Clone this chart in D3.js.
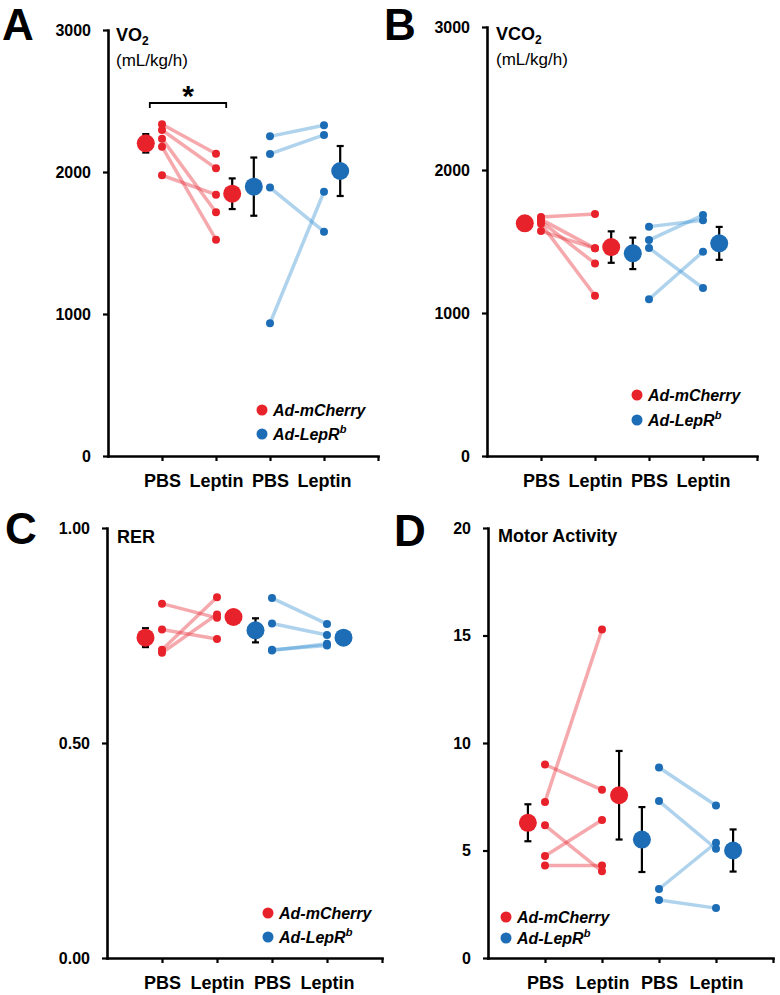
<!DOCTYPE html>
<html>
<head>
<meta charset="utf-8">
<script src="https://cdn.jsdelivr.net/npm/d3@7"></script>
<style>
  html, body { margin: 0; padding: 0; background: #fff; }
  svg { display: block; font-family: "Liberation Sans", Arial, sans-serif; }
</style>
</head>
<body>
<svg id="chart" width="780" height="995"></svg>
<script>
// ---------- DATA ----------
const xLabels = ["PBS", "Leptin", "PBS", "Leptin"];
const groupNames = ["Ad-mCherry", "Ad-LepR"];

// A: VO2 (mL/kg/h)
const vo2CherryPBS    = [2336, 2296, 2235, 2178, 1977];
const vo2CherryLeptin = [2129, 2026, 1716, 1523, 1840];
const vo2LepRPBS      = [2251, 2127, 1890, 935];
const vo2LepRLeptin   = [2329, 2261, 1580, 1861];
const vo2Means = [2202, 1847, 1897, 2007];
const vo2Errs  = [65, 108, 205, 176];
const vo2Ticks = [0, 1000, 2000, 3000];

// B: VCO2 (mL/kg/h)
const vco2CherryPBS    = [1671, 1655, 1640, 1625, 1573];
const vco2CherryLeptin = [1692, 1452, 1347, 1121, 1452];
const vco2LepRPBS      = [1604, 1510, 1455, 1096];
const vco2LepRLeptin   = [1648, 1685, 1175, 1429];
const vco2Means = [1627, 1461, 1417, 1487];
const vco2Errs  = [18, 110, 110, 115];
const vco2Ticks = [0, 1000, 2000, 3000];

// C: RER
const rerCherryPBS    = [0.824, 0.764, 0.717, 0.710];
const rerCherryLeptin = [0.791, 0.742, 0.839, 0.799];
const rerLepRPBS      = [0.837, 0.778, 0.715, 0.717];
const rerLepRLeptin   = [0.777, 0.751, 0.731, 0.727];
const rerMeans = [0.745, 0.793, 0.762, 0.745];
const rerErrs  = [0.022, 0.006, 0.028, 0.005];
const rerTicks = [0, 0.5, 1.0];

// D: Motor Activity
const motCherryPBS    = [7.26, 9.00, 6.17, 4.74, 4.30];
const motCherryLeptin = [15.28, 7.82, 4.03, 6.42, 4.30];
const motLepRPBS      = [8.86, 7.30, 3.21, 2.70];
const motLepRLeptin   = [7.09, 5.08, 5.36, 2.32];
const motMeans = [6.29, 7.57, 5.51, 5.00];
const motErrs  = [0.86, 2.06, 1.51, 0.98];
const motTicks = [0, 5, 10, 15, 20];

// ---------- STYLE ----------
const RED = "#e8222a", BLUE = "#1c6db5";
const RED_LINE = "rgb(230,40,50)", BLUE_LINE = "rgb(55,145,210)";

const svg = d3.select("#chart");

const panels = [
  { letter: "A", lx: 2, ly: 40, x0: 108, step: 54, y0: 456, yTop: 30, max: 3000,
    ticks: vo2Ticks, fmt: d3.format("d"),
    title: ["VO", "2"], unit: "(mL/kg/h)", tx: 116, ty: 41,
    cherry: [vo2CherryPBS, vo2CherryLeptin], lepr: [vo2LepRPBS, vo2LepRLeptin],
    means: vo2Means, errs: vo2Errs, legend: { x: 262, y: 410, gap: 24 }, star: true },
  { letter: "B", lx: 384, ly: 40, x0: 487, step: 54, y0: 456, yTop: 27, max: 3000,
    ticks: vco2Ticks, fmt: d3.format("d"),
    title: ["VCO", "2"], unit: "(mL/kg/h)", tx: 496, ty: 40,
    cherry: [vco2CherryPBS, vco2CherryLeptin], lepr: [vco2LepRPBS, vco2LepRLeptin],
    means: vco2Means, errs: vco2Errs, legend: { x: 637, y: 395, gap: 25 } },
  { letter: "C", lx: 5, ly: 544, x0: 107, step: 55, y0: 958, yTop: 528, max: 1,
    ticks: rerTicks, fmt: d3.format(".2f"),
    title: ["RER"], tx: 117, ty: 543,
    cherry: [rerCherryPBS, rerCherryLeptin], lepr: [rerLepRPBS, rerLepRLeptin],
    means: rerMeans, errs: rerErrs, legend: { x: 268, y: 913, gap: 24 } },
  { letter: "D", lx: 394, ly: 546, x0: 488, step: 57, y0: 958, yTop: 528, max: 20,
    ticks: motTicks, fmt: d3.format("d"),
    title: ["Motor Activity"], tx: 498, ty: 542,
    cherry: [motCherryPBS, motCherryLeptin], lepr: [motLepRPBS, motLepRLeptin],
    means: motMeans, errs: motErrs, legend: { x: 506, y: 917, gap: 21 } }
];

function drawPanel(p) {
  const g = svg.append("g");
  const y = d3.scaleLinear().domain([0, p.max]).range([p.y0, p.yTop]);
  const x = d3.scaleLinear().domain([0, 5]).range([p.x0, p.x0 + 5 * p.step]);

  // panel letter
  g.append("text").attr("x", p.lx).attr("y", p.ly)
    .attr("font-size", 44).attr("font-weight", "bold").text(p.letter);

  // title
  const t = g.append("text").attr("x", p.tx).attr("y", p.ty)
    .attr("font-size", 18).attr("font-weight", "bold");
  t.append("tspan").text(p.title[0]);
  if (p.title[1]) t.append("tspan").attr("font-size", 12).attr("dy", 4).text(p.title[1]);
  if (p.unit) g.append("text").attr("x", p.tx).attr("y", p.ty + 25)
    .attr("font-size", 17).text(p.unit);

  // axes
  const ya = g.append("g").attr("transform", `translate(${p.x0},0)`)
    .call(d3.axisLeft(y).tickValues(p.ticks).tickFormat(p.fmt)
      .tickSize(5).tickSizeOuter(0).tickPadding(12));
  const xa = g.append("g").attr("transform", `translate(0,${p.y0})`)
    .call(d3.axisBottom(x).tickValues([1, 2, 3, 4, 5])
      .tickFormat(i => xLabels[i - 1] || "")
      .tickSize(5).tickSizeOuter(0).tickPadding(13));
  [ya, xa].forEach(a => {
    a.select(".domain").attr("stroke", "#000").attr("stroke-width", 2.6).attr("stroke-linecap", "square");
    a.selectAll(".tick line").attr("stroke", "#000").attr("stroke-width", 2.2);
    a.selectAll("text").attr("fill", "#000").attr("font-weight", "bold")
      .attr("font-family", "\"Liberation Sans\", Arial, sans-serif");
  });
  ya.selectAll("text").attr("font-size", 16);
  xa.selectAll("text").attr("font-size", 18);

  // paired lines + individual dots
  const groups = [
    { d: p.cherry, pos: [1, 2], line: RED_LINE, dot: RED },
    { d: p.lepr,   pos: [3, 4], line: BLUE_LINE, dot: BLUE }
  ];
  groups.forEach(gr => {
    const pairs = gr.d[0].map((v, i) => [v, gr.d[1][i]]);
    g.selectAll(null).data(pairs).enter().append("line")
      .attr("x1", x(gr.pos[0])).attr("x2", x(gr.pos[1]))
      .attr("y1", d => y(d[0])).attr("y2", d => y(d[1]))
      .attr("stroke", gr.line).attr("stroke-opacity", 0.4).attr("stroke-width", 3.5);
    [0, 1].forEach(k => {
      g.selectAll(null).data(gr.d[k]).enter().append("circle")
        .attr("cx", x(gr.pos[k])).attr("cy", d => y(d)).attr("r", 4)
        .attr("fill", gr.dot);
    });
  });

  // means with error bars
  const meanPos = [1 - 0.3, 2 + 0.3, 3 - 0.3, 4 + 0.3];
  const meanCols = [RED, RED, BLUE, BLUE];
  p.means.forEach((m, i) => {
    const cx = x(meanPos[i]);
    const lo = y(m - p.errs[i]), hi = y(m + p.errs[i]);
    g.append("line").attr("x1", cx).attr("x2", cx).attr("y1", lo).attr("y2", hi)
      .attr("stroke", "#000").attr("stroke-width", 2.2);
    [lo, hi].forEach(yy => g.append("line").attr("x1", cx - 3.5).attr("x2", cx + 3.5)
      .attr("y1", yy).attr("y2", yy).attr("stroke", "#000").attr("stroke-width", 2.2));
    g.append("circle").attr("cx", cx).attr("cy", y(m)).attr("r", 9).attr("fill", meanCols[i]);
  });

  // legend
  const L = p.legend;
  [RED, BLUE].forEach((c, i) => {
    g.append("circle").attr("cx", L.x).attr("cy", L.y + i * L.gap).attr("r", 5.5).attr("fill", c);
    const tt = g.append("text").attr("x", L.x + 11).attr("y", L.y + i * L.gap + 6)
      .attr("font-size", 16).attr("font-weight", "bold").attr("font-style", "italic");
    tt.append("tspan").text(groupNames[i]);
    if (i === 1) tt.append("tspan").attr("font-size", 11).attr("dy", -7).text("b");
  });

  // significance bracket
  if (p.star) {
    const bx1 = x(1 - 0.3) + 4, bx2 = x(2 + 0.3) - 6, by = 103;
    g.append("path").attr("d", `M${bx1},${by + 5}V${by}H${bx2}V${by + 5}`)
      .attr("fill", "none").attr("stroke", "#000").attr("stroke-width", 1.8);
    g.append("text").attr("x", (bx1 + bx2) / 2).attr("y", 106)
      .attr("text-anchor", "middle").attr("font-size", 30).attr("font-weight", "bold").text("*");
  }
}

panels.forEach(drawPanel);
</script>
</body>
</html>
